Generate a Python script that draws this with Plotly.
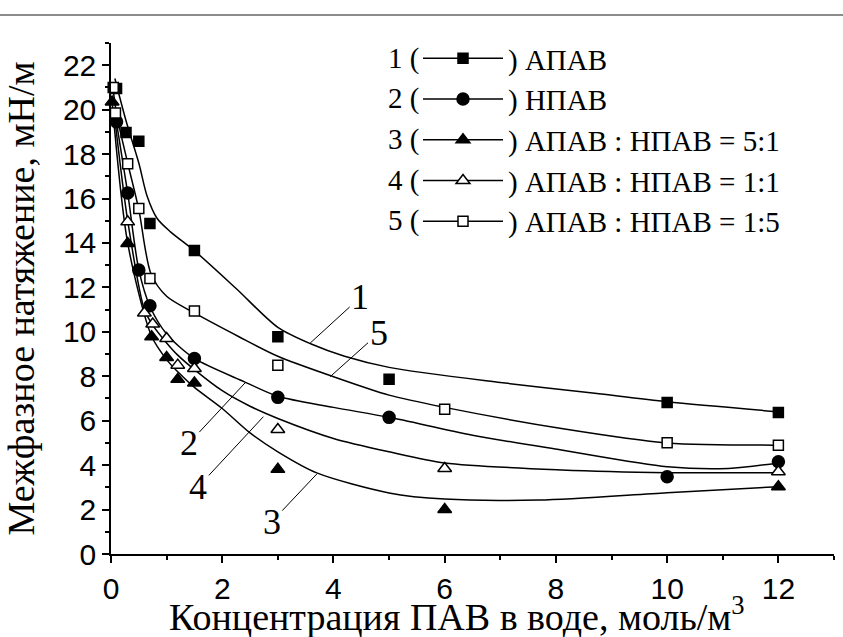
import plotly.graph_objects as go

# ---------------- measured data points ----------------
x_apav = [0.1, 0.27, 0.5, 0.7, 1.5, 3, 5, 10, 12]
y_apav = [20.95, 18.97, 18.58, 14.88, 13.66, 9.78, 7.86, 6.82, 6.37]

x_npav = [0.1, 0.3, 0.5, 0.7, 1.5, 3, 5, 10, 12]
y_npav = [19.45, 16.25, 12.78, 11.17, 8.8, 7.05, 6.15, 3.48, 4.15]

x_51 = [0.02, 0.3, 0.73, 1.0, 1.2, 1.5, 3, 6, 12]
y_51 = [20.35, 13.98, 9.78, 8.85, 7.86, 7.7, 3.81, 2.0, 3.03]

x_11 = [0.3, 0.6, 0.75, 1.0, 1.2, 1.5, 3, 6, 12]
y_11 = [14.95, 10.85, 10.35, 9.7, 8.5, 8.35, 5.6, 3.85, 3.7]

x_15 = [0.04, 0.08, 0.3, 0.5, 0.7, 1.5, 3, 6, 10, 12]
y_15 = [21.0, 19.85, 17.57, 15.55, 12.4, 10.94, 8.5, 6.52, 5.01, 4.9]

# ---------------- smoothed fit curves ----------------
fit1_x = [0.07, 0.27, 0.5, 0.65, 0.83, 1.07, 1.5, 2.25, 3.0, 3.6, 4.2, 5.0, 7.0, 8.7, 10, 12]
fit1_y = [21.4, 19.5, 17.6, 16.1, 15.1, 14.5, 13.65, 11.95, 10.2, 9.45, 8.9, 8.4, 7.72, 7.23, 6.85, 6.4]

fit2_x = [0.1, 0.3, 0.5, 0.7, 1.0, 1.5, 2.4, 3.0, 4.0, 5.0, 6.5, 8.1, 10, 11.1, 12]
fit2_y = [19.4, 16.25, 12.8, 11.15, 9.9, 8.8, 7.75, 7.1, 6.6, 6.15, 5.35, 4.68, 3.93, 3.85, 4.1]

fit3_x = [0.02, 0.3, 0.73, 1.0, 1.2, 1.5, 2.0, 2.5, 3.0, 3.7, 5.0, 6.0, 7.7, 10, 12]
fit3_y = [20.35, 14.0, 9.8, 8.75, 8.2, 7.5, 6.55, 5.45, 4.6, 3.65, 2.75, 2.47, 2.43, 2.76, 3.03]

fit4_x = [0.05, 0.3, 0.6, 0.75, 1.0, 1.2, 1.5, 2.0, 2.5, 3.0, 4.0, 5.0, 6.0, 8.1, 10, 12]
fit4_y = [20.0, 15.0, 11.0, 10.3, 9.5, 8.95, 8.3, 7.35, 6.65, 6.1, 5.2, 4.6, 4.1, 3.78, 3.66, 3.66]

fit5_x = [0.03, 0.1, 0.3, 0.5, 0.72, 1.0, 1.5, 2.3, 3.0, 4.0, 5.0, 6.0, 8.1, 10, 12]
fit5_y = [21.1, 19.8, 17.6, 15.5, 12.6, 11.6, 10.85, 9.78, 8.9, 7.98, 7.15, 6.6, 5.65, 5.0, 4.9]

series_names = [") АПАВ", ") НПАВ", ") АПАВ : НПАВ = 5:1",
                ") АПАВ : НПАВ = 1:1", ") АПАВ : НПАВ = 1:5"]
series_nums = ["1", "2", "3", "4", "5"]

x_title = "Концентрация ПАВ в воде, моль/м<sup>3</sup>"
y_title = "Межфазное натяжение, мН/м"

# curve labels with leader lines
label_text = ["1", "5", "2", "4", "3"]
label_x = [4.48, 4.81, 1.40, 1.57, 2.89]
label_y = [11.55, 9.93, 4.98, 3.03, 1.45]
tip_x = [3.58, 3.94, 2.41, 2.74, 3.70]
tip_y = [9.49, 7.98, 7.70, 6.18, 3.60]

# ---------------- figure ----------------
pts = [(x_apav, y_apav), (x_npav, y_npav), (x_51, y_51), (x_11, y_11), (x_15, y_15)]
fits = [(fit1_x, fit1_y), (fit2_x, fit2_y), (fit3_x, fit3_y), (fit4_x, fit4_y), (fit5_x, fit5_y)]
symbols = ["square", "circle", "triangle-up", "triangle-up", "square"]
fills = ["black", "black", "black", "white", "white"]
sizes = [10, 12, 12, 12, 10]

fig = go.Figure()

for i in range(5):
    fx, fy = fits[i]
    fig.add_trace(go.Scatter(
        x=fx, y=fy, mode="lines+markers", name=series_names[i],
        line=dict(color="black", width=1.5, shape="spline", smoothing=0.8),
        marker=dict(symbol=symbols[i], size=sizes[i], color=fills[i],
                    line=dict(color="black", width=1.5)),
        selectedpoints=[], unselected=dict(marker=dict(opacity=0)),
        hoverinfo="skip", showlegend=True, cliponaxis=False,
    ))

for i in range(5):
    px_, py_ = pts[i]
    fig.add_trace(go.Scatter(
        x=px_, y=py_, mode="markers", showlegend=False,
        marker=dict(symbol=symbols[i], size=sizes[i], color=fills[i],
                    line=dict(color="black", width=1.5)),
        cliponaxis=False,
    ))

# plot area geometry (pixels)
W, H = 843, 637
ML, MR, MT, MB = 111, 9, 43, 83
PW, PH = W - ML - MR, H - MT - MB

def px2paper_x(p):
    return (p - ML) / PW

def px2paper_y(p):
    return (H - MB - p) / PH

serif = "Liberation Serif, Times New Roman, serif"
sans = "Liberation Sans, Arial, sans-serif"

annotations = []
for t, lx, ly, tx, ty in zip(label_text, label_x, label_y, tip_x, tip_y):
    annotations.append(dict(
        x=tx, y=ty, ax=lx, ay=ly, xref="x", yref="y", axref="x", ayref="y",
        text=t, showarrow=True, arrowhead=0, arrowwidth=1, arrowcolor="black",
        standoff=0, startstandoff=0,
        font=dict(family=serif, size=36, color="black"),
    ))

legend_top_px = 33
row_h = 40.7
for i, n in enumerate(series_nums):
    annotations.append(dict(
        x=px2paper_x(421), y=px2paper_y(legend_top_px + 25 + row_h * i),
        xref="paper", yref="paper", xanchor="right", yanchor="middle",
        text=n + " (", showarrow=False,
        font=dict(family=serif, size=29, color="black"),
    ))

# x axis title (placed as annotation so it can sit slightly left of centre like the original)
annotations.append(dict(
    x=px2paper_x(457), y=px2paper_y(614), xref="paper", yref="paper",
    xanchor="center", yanchor="middle", text=x_title, showarrow=False,
    font=dict(family=serif, size=38, color="black"),
))

fig.update_layout(
    width=W, height=H,
    margin=dict(l=ML, r=MR, t=MT, b=MB),
    paper_bgcolor="white", plot_bgcolor="white",
    showlegend=True,
    legend=dict(
        x=px2paper_x(418), y=px2paper_y(legend_top_px), xanchor="left", yanchor="top",
        bgcolor="rgba(0,0,0,0)", borderwidth=0,
        font=dict(family=serif, size=29, color="black"),
        itemwidth=80, itemsizing="trace", tracegroupgap=0,
    ),
    annotations=annotations,
    shapes=[dict(type="line", xref="paper", yref="paper",
                 x0=px2paper_x(0), x1=px2paper_x(W), y0=px2paper_y(15), y1=px2paper_y(15),
                 line=dict(color="#8c8c8c", width=2))],
)

fig.update_xaxes(
    range=[0, 13], tick0=0, dtick=2, showgrid=False, zeroline=False,
    showline=True, linecolor="black", linewidth=1.5,
    ticks="outside", ticklen=7, tickwidth=1.5, tickcolor="black",
    minor=dict(dtick=1, ticks="outside", ticklen=4, tickwidth=1.5, tickcolor="black", showgrid=False),
    tickfont=dict(family=sans, size=30, color="black"),
    automargin=False,
)
fig.update_yaxes(
    range=[0, 23], tick0=0, dtick=2, showgrid=False, zeroline=False,
    showline=True, linecolor="black", linewidth=1.5,
    ticks="outside", ticklen=7, tickwidth=1.5, tickcolor="black",
    minor=dict(dtick=1, ticks="outside", ticklen=4, tickwidth=1.5, tickcolor="black", showgrid=False),
    tickfont=dict(family=sans, size=30, color="black"),
    title=dict(text=y_title,
               font=dict(family=serif, size=38, color="black"), standoff=20),
    automargin=False,
)

fig.write_html("out.html")
